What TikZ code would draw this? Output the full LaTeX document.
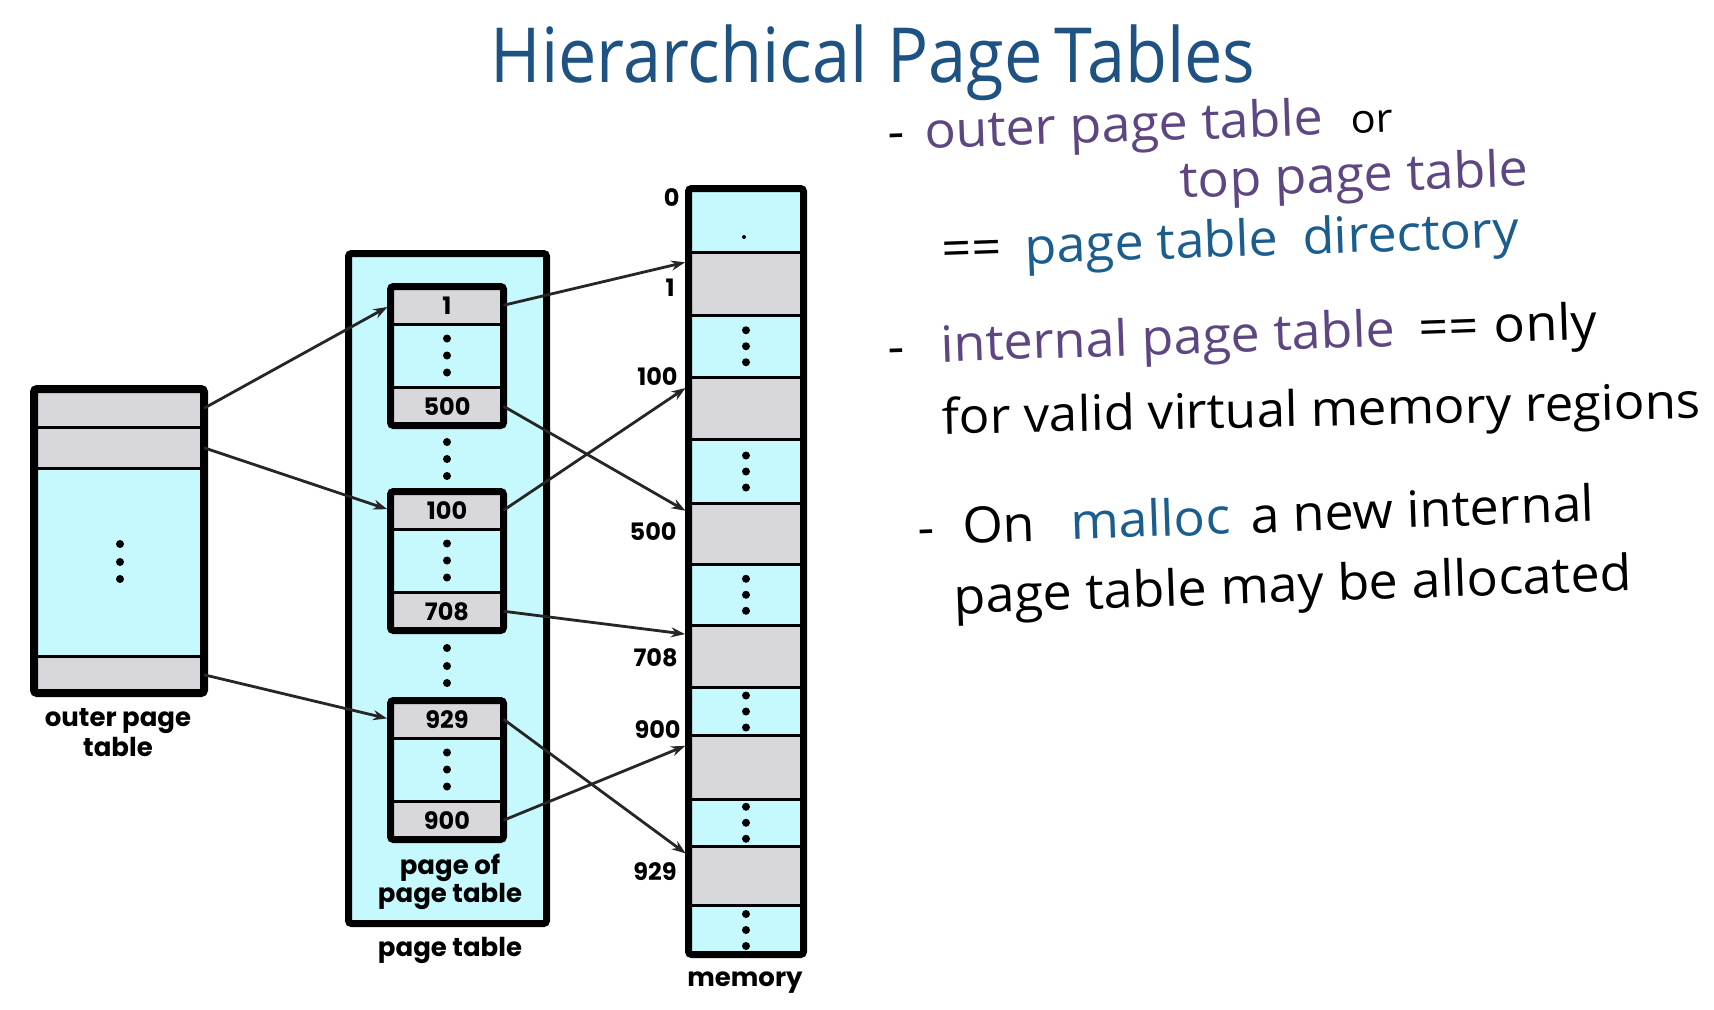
\documentclass[tikz,border=0pt]{standalone}
\usepackage{fontspec}
\usepackage{xcolor}
\usepackage{tikz}
\usetikzlibrary{calc}
\usetikzlibrary{arrows.meta}
\newfontfamily\boxfont{Poppins}
\newfontfamily\handfont{Open Sans}[FakeStretch=1.04]
\newfontfamily\titlefont{Open Sans}[FakeStretch=0.9]
\definecolor{cellcyan}{HTML}{C6F9FE}
\definecolor{cellgray}{HTML}{D7D7DC}
\definecolor{inkblue}{HTML}{1D5283}
\definecolor{inkpurple}{HTML}{5E4683}
\definecolor{inkteal}{HTML}{1B5D8E}

\tikzset{
  frame/.style={line width=3.5pt, rounded corners=1.5pt},
  cell/.style={draw, line width=1.5pt, inner sep=0pt, outer sep=0pt,
    font=\boxfont\bfseries\fontsize{12}{12}\selectfont},
  ptr/.style={line width=1.4pt, draw=black!85, -{Stealth[length=7pt,width=5pt]},
    shorten >=1.75pt},
  caption/.style={font=\boxfont\bfseries\fontsize{13}{15}\selectfont, align=center, inner sep=0pt},
  addr/.style={font=\boxfont\bfseries\fontsize{12}{12}\selectfont, anchor=east, inner sep=0pt},
  hand/.style={font=\handfont\fontsize{25}{26}\selectfont, anchor=base west, inner sep=0pt, rotate=2},
}

\newcommand\ptpage[4]{%
  \begin{scope}[shift={(0,#2)}]
    \node[cell, fill=cellgray, minimum width=56.5pt, minimum height=18.75pt] (#1top) at (447,22.25) {#3};
    \node[cell, fill=cellcyan, minimum width=56.5pt, minimum height=31.5pt] (#1mid) at (447,72.5) {};
    \node[cell, fill=cellgray, minimum width=56.5pt, minimum height=19.25pt] (#1bot) at (447,123.25) {#4};
    \draw[frame] (390.5,3.5) rectangle (503.5,142.5);
    \foreach \d in {55.5,72.5,89.5} \fill (447,\d) circle (2pt);
  \end{scope}
}

\begin{document}
\begin{tikzpicture}[x=0.5pt, y=-0.5pt]
\useasboundingbox (0,0) rectangle (1714,1009);
\fill[white] (0,0) rectangle (1714,1009);

% outer page table
\node[cell, fill=cellgray, minimum width=85pt, minimum height=19.25pt] (op1) at (119,408.25) {};
\node[cell, fill=cellgray, minimum width=85pt, minimum height=20.25pt] (op2) at (119,447.75) {};
\node[cell, fill=cellcyan, minimum width=85pt, minimum height=94.25pt] (opm) at (119,562.25) {};
\node[cell, fill=cellgray, minimum width=85pt, minimum height=18.25pt] (op3) at (119,674.75) {};
\draw[frame, line width=4pt] (34,389) rectangle (204,693);
\foreach \d in {544,562,579} \fill (120,\d) circle (2pt);
\node[caption] (opcap) at (118,733) {outer page\\table};

% page table
\draw[frame, fill=cellcyan] (348.5,253.5) rectangle (546.5,923.5);
\ptpage{ptA}{283}{1}{500}
\ptpage{ptB}{488}{100}{708}
\ptpage{ptC}{697}{929}{900}
\foreach \d in {442,459,476,648,666,683} \fill (447,\d) circle (2pt);
\node[caption, font=\boxfont\bfseries\fontsize{13}{12}\selectfont] (ppcap) at (450,882) {page of\\page table};
\node[caption] (ptcap) at (450,950) {page table};

% memory
\foreach \ya/\yb/\cl [count=\i] in {188.5/252.5/cellcyan, 252.5/315.5/cellgray,
    315.5/377/cellcyan, 377/439.5/cellgray, 439.5/503.5/cellcyan, 503.5/564/cellgray,
    564/625.5/cellcyan, 625.5/687.5/cellgray, 687.5/735.5/cellcyan, 735.5/799/cellgray,
    799/846.5/cellcyan, 846.5/905.5/cellgray, 905.5/954.5/cellcyan}
  \node[cell, fill=\cl, minimum width=57.5pt, minimum height={(\yb-\ya)*0.5pt}] (m\i) at (746,{(\ya+\yb)/2}) {};
\draw[frame] (688.5,188.5) rectangle (803.5,954.5);
\fill (744,237) circle (1pt);
\foreach \r in {3,5,7,9,11,13}
  \foreach \d in {-16,0,16} \fill ($(m\r.center)+(0,\d)$) circle (2pt);
\node[addr] (a0) at (680,198) {0};
\node[addr] (a1) at (675,288) {1};
\node[addr] (a100) at (678,377) {100};
\node[addr] (a500) at (677,532) {500};
\node[addr] (a708) at (678,658) {708};
\node[addr] (a900) at (681,730) {900};
\node[addr] (a929) at (677,872) {929};
\node[caption] (memcap) at (745,983) {memory};

\draw[ptr] (op1.east) -- (ptAtop.west);
\draw[ptr] (op2.east) -- (ptBtop.west);
\draw[ptr] (op3.east) -- (ptCtop.west);
\draw[ptr] (ptAtop.east) -- ([yshift=-4.5pt]m2.north west);
\draw[ptr] (ptAbot.east) -- ([yshift=-4.5pt]m6.north west);
\draw[ptr] (ptBtop.east) -- ([yshift=-4.5pt]m4.north west);
\draw[ptr] (ptBbot.east) -- ([yshift=-4.5pt]m8.north west);
\draw[ptr] (ptCtop.east) -- ([yshift=-4.5pt]m12.north west);
\draw[ptr] (ptCbot.east) -- ([yshift=-4.5pt]m10.north west);

% notes
\node[font=\titlefont\fontsize{38}{40}\selectfont, text=inkblue, anchor=base, inner sep=0pt] (title) at (873,82) {Hierarchical\hspace{10pt}Page\hspace{6pt}Tables};
\node[hand] (l1) at (888,150) {-\hspace{10pt}\textcolor{inkpurple}{outer page table}\hspace{14pt}{\fontsize{20}{20}\selectfont or}};
\node[hand, text=inkpurple] (l2) at (1180,198) {top page table};
\node[hand] (l3) at (942,267) {==\hspace{12pt}\textcolor{inkteal}{page table\hspace{12pt}directory}};
\node[hand] (l4) at (888,364) {-\hspace{18pt}\textcolor{inkpurple}{internal page table}\hspace{12pt}==\hspace{8pt}only};
\node[hand, rotate=-0.8, font=\handfont\fontsize{24.5}{26}\selectfont] (l5) at (942,434) {for valid virtual memory regions};
\node[hand] (l6) at (918,545) {-\hspace{14pt}On\hspace{18pt}\textcolor{inkteal}{malloc}\hspace{10pt}a new internal};
\node[hand] (l7) at (954,614) {page table may be allocated};
\end{tikzpicture}
\end{document}
